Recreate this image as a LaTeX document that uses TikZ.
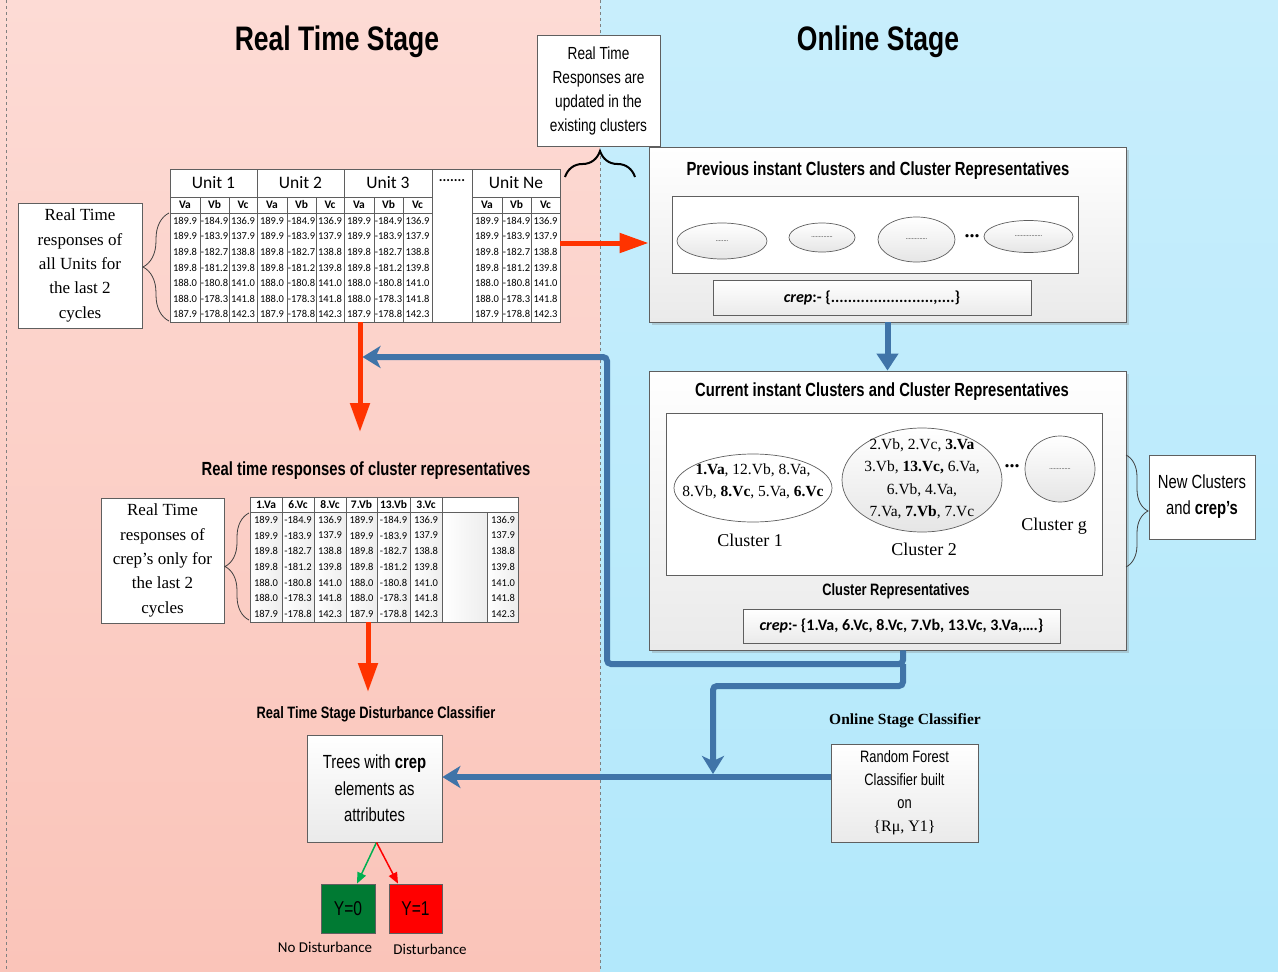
\documentclass[tikz,border=0pt]{standalone}
\usepackage{fontspec}
\setmainfont{Liberation Serif}
\newfontfamily\narrowsans{Liberation Sans}[FakeStretch=0.78]
\newfontfamily\calib{Carlito}
\usetikzlibrary{arrows.meta,shapes.geometric,decorations.pathreplacing,shadows,calc}

\definecolor{pinktop}{RGB}{253,219,213}
\definecolor{pinkbot}{RGB}{250,196,185}
\definecolor{skytop}{RGB}{200,238,252}
\definecolor{skybot}{RGB}{178,232,251}
\definecolor{flowred}{RGB}{255,51,0}
\definecolor{flowblue}{RGB}{64,116,168}
\definecolor{edgegray}{RGB}{95,95,95}
\definecolor{panelbot}{RGB}{234,234,234}
\definecolor{okgreen}{RGB}{0,122,51}
\definecolor{arrgreen}{RGB}{0,176,80}

\newcommand{\setfs}[2]{\fontsize{#1}{#2}\selectfont}
\def\datarows{189.9/-184.9/136.9,189.9/-183.9/137.9,189.8/-182.7/138.8,189.8/-181.2/139.8,188.0/-180.8/141.0,188.0/-178.3/141.8,187.9/-178.8/142.3}

\tikzset{
  panel/.style={draw=edgegray, line width=0.8, top color=white, bottom color=panelbot, inner sep=0,
    drop shadow={shadow xshift=2.5pt, shadow yshift=-2.5pt, opacity=0.3}},
  plainbox/.style={draw=edgegray, line width=0.8, fill=white, inner sep=0, align=center},
  grbox/.style={draw=edgegray, line width=0.8, top color=white, bottom color=panelbot, inner sep=0, align=center},
  tline/.style={draw=edgegray, line width=0.6},
  cell/.style={inner sep=0, font=\calib\setfs{10.5}{12}},
  colhead/.style={inner sep=0, font=\calib\bfseries\setfs{11.5}{13}},
  bigtitle/.style={inner sep=0, font=\narrowsans\bfseries\setfs{34}{40}},
  paneltitle/.style={inner sep=0, font=\narrowsans\bfseries\setfs{19}{22}},
  subtitle/.style={inner sep=0, font=\narrowsans\bfseries\setfs{16.5}{19}},
  curly/.style={draw=black!75, line width=0.8, decorate, decoration={brace, amplitude=#1}},
  blob/.style={ellipse, draw=edgegray, line width=0.7, inner sep=0, top color=white, bottom color=black!10},
  tinydots/.style={inner sep=0, font=\calib\setfs{6}{7}},
  redflow/.style={draw=flowred, line width=5, -{Triangle[length=29pt, width=19pt]}},
  bluepipe/.style={draw=flowblue, line width=6, rounded corners=4},
  bluehead/.style={-{Stealth[length=18pt, width=22pt, inset=5pt]}},
  crepfont/.style={font=\calib\bfseries\setfs{16}{18}},
}

\begin{document}
\begin{tikzpicture}[x=1pt, y=-1pt]
\useasboundingbox (0,0) rectangle (1278,972);

% stage backgrounds
\shade[top color=pinktop, bottom color=pinkbot] (0,0) rectangle (600,972);
\shade[top color=skytop, bottom color=skybot] (600,0) rectangle (1278,972);
\draw[gray, dashed, line width=0.8] (600,0) -- (600,972);
\draw[gray, dashed, line width=0.8] (6,0) -- (6,972);

% stage titles
\node[bigtitle] (rtstage) at (337,42) {Real Time Stage};
\node[bigtitle] (olstage) at (878,42) {Online Stage};

% note on updating
\node[plainbox, minimum width=123, minimum height=111, font=\narrowsans\setfs{17.5}{24}] (callout) at (598.5,90.5)
  {Real Time\\Responses are\\updated in the\\existing clusters};
\draw[curly=26pt, draw=black, line width=2] (565,177) -- (635,177);

% unit response table
\node[minimum width=390, minimum height=153, inner sep=0, fill=white] (unittab) at (365,245.5) {};
\foreach \ux/\uw/\uname [count=\u] in {170/87/Unit 1, 257/87/Unit 2, 344/88/Unit 3, 472/88/Unit Ne} {
  \draw[tline] (\ux,169) rectangle (\ux+\uw,322);
  \draw[tline] (\ux,197) -- (\ux+\uw,197) (\ux,213) -- (\ux+\uw,213);
  \draw[tline] (\ux+30,197) -- (\ux+30,322) (\ux+59,197) -- (\ux+59,322);
  \node[inner sep=0, font=\calib\setfs{17.5}{20}] (uhead\u) at (\ux+\uw/2,183) {\uname};
  \node[colhead] (uva\u) at (\ux+15,205) {Va};
  \node[colhead] (uvb\u) at (\ux+44.5,205) {Vb};
  \node[colhead] (uvc\u) at (\ux+59+\uw/2-29.5,205) {Vc};
  \foreach \a/\b/\c [count=\r] in \datarows {
    \node[cell] (ua\u-\r) at (\ux+15,205.2+\r*15.57) {\a};
    \node[cell] (ub\u-\r) at (\ux+44.5,205.2+\r*15.57) {\b};
    \node[cell] (uc\u-\r) at (\ux+59+\uw/2-29.5,205.2+\r*15.57) {\c};
  }
}
\draw[tline] (432,169) rectangle (472,322);
\node[inner sep=0, font=\calib\bfseries\setfs{14}{16}] (gapdots) at (452,181) {.......};

\node[plainbox, minimum width=124, minimum height=125, font=\setfs{17}{24.3}] (allunits) at (80,265.5)
  {Real Time\\responses of\\all Units for\\the last 2\\cycles};
\draw[curly=26pt] (169,321) -- (169,213);

% previous instant panel
\node[panel, minimum width=477, minimum height=175] (prev) at (887.5,234.5) {};
\node[paneltitle] (prevtitle) at (878,171) {Previous instant Clusters and Cluster Representatives};
\node[plainbox, minimum width=406, minimum height=77] (prevset) at (875,234.5) {};
\node[blob, minimum width=90, minimum height=36] (pc1) at (722,241) {};
\node[blob, minimum width=66, minimum height=29] (pc2) at (822,237.5) {};
\node[blob, minimum width=77, minimum height=45] (pc3) at (916.5,239.5) {};
\node[blob, minimum width=89, minimum height=32] (pc4) at (1028.5,236.5) {};
\node[tinydots] (pc1t) at (pc1) {........};
\node[tinydots] (pc2t) at (pc2) {..............};
\node[tinydots] (pc3t) at (pc3) {..............};
\node[tinydots] (pc4t) at (pc4) {..................};
\node[inner sep=0, font=\bfseries\setfs{20}{20}] (pdots) at (972,236) {...};
\node[grbox, minimum width=318, minimum height=35, crepfont] (prevcrep) at (872,297.5)
  {\textit{crep}:- \{........................,....\}};

% current instant panel
\node[panel, minimum width=477, minimum height=279] (cur) at (887.5,510.5) {};
\node[paneltitle] (curtitle) at (882,392) {Current instant Clusters and Cluster Representatives};
\node[plainbox, minimum width=436, minimum height=162] (curset) at (884,494) {};
\node[ellipse, draw=edgegray, line width=0.7, fill=white, inner sep=0, minimum width=158, minimum height=68] (cl1) at (753,488) {};
\node[inner sep=0, align=center, font=\setfs{15.5}{22.5}] (cl1t) at (753,481.5)
  {\textbf{1.Va}, 12.Vb, 8.Va,\\8.Vb, \textbf{8.Vc}, 5.Va, \textbf{6.Vc}};
\node[blob, minimum width=160, minimum height=104] (cl2) at (922,480) {};
\node[inner sep=0, align=center, font=\setfs{15.5}{22.5}] (cl2t) at (922,479)
  {2.Vb, 2.Vc, \textbf{3.Va}\\3.Vb, \textbf{13.Vc,} 6.Va,\\6.Vb, 4.Va,\\7.Va, \textbf{7.Vb}, 7.Vc};
\node[blob, minimum width=70, minimum height=66] (clg) at (1060,469) {};
\node[tinydots] (clgt) at (clg) {..............};
\node[inner sep=0, font=\bfseries\setfs{20}{20}] (cdots) at (1012,466) {...};
\node[inner sep=0, font=\setfs{18}{20}] (cl1lab) at (750,540) {Cluster 1};
\node[inner sep=0, font=\setfs{18}{20}] (cl2lab) at (924,549) {Cluster 2};
\node[inner sep=0, font=\setfs{18}{20}] (clglab) at (1054,526) {Cluster g};
\node[subtitle] (reptitle) at (896,591) {Cluster Representatives};
\node[grbox, minimum width=317, minimum height=34, crepfont] (curcrep) at (901.5,626)
  {\textit{crep}:- \{1.Va, 6.Vc, 8.Vc, 7.Vb, 13.Vc, 3.Va,….\}};

\draw[curly=22pt] (1126,455) -- (1126,567);
\node[plainbox, minimum width=106, minimum height=84, font=\narrowsans\setfs{19}{26}] (newcl) at (1202,497)
  {New Clusters\\and \textbf{crep’s}};

% representative response table
\node[subtitle, font=\narrowsans\bfseries\setfs{19}{22}] (rrtitle) at (366,471) {Real time responses of cluster representatives};
\node[minimum width=268, minimum height=125, inner sep=0] (reptab) at (384,559.5) {};
\foreach \xa/\xb/\lab [count=\c] in {250/282/1.Va, 282/314/6.Vc, 314/346/8.Vc, 346/377/7.Vb, 377/410/13.Vb, 410/442/3.Vc} {
  \draw[tline, fill=white] (\xa,497) rectangle (\xb,512);
  \draw[tline, left color=white, right color=black!7] (\xa,512) rectangle (\xb,622);
  \node[colhead] (rh\c) at ({(\xa+\xb)/2},504.5) {\lab};
}
\draw[tline, fill=white] (442,497) rectangle (518,512);
\draw[tline, left color=white, right color=black!7] (442,512) rectangle (487,622);
\draw[tline, left color=white, right color=black!7] (487,512) rectangle (518,622);
\foreach \a/\b/\c [count=\r] in \datarows {
  \node[cell] (ra1-\r) at (266,504.15+\r*15.71) {\a};
  \node[cell] (ra2-\r) at (298,504.15+\r*15.71) {\b};
  \node[cell] (ra3-\r) at (330,504.15+\r*15.71) {\c};
  \node[cell] (ra4-\r) at (361.5,504.15+\r*15.71) {\a};
  \node[cell] (ra5-\r) at (393.5,504.15+\r*15.71) {\b};
  \node[cell] (ra6-\r) at (426,504.15+\r*15.71) {\c};
  \node[cell] (ra8-\r) at (503,504.15+\r*15.71) {\c};
}
\node[plainbox, minimum width=123, minimum height=125, font=\setfs{17}{24.3}] (crepresp) at (162.5,560.5)
  {Real Time\\responses of\\crep’s only for\\the last 2\\cycles};
\draw[curly=24pt] (249,620) -- (249,513);

% real time classifier
\node[subtitle] (rtcltitle) at (376,714) {Real Time Stage Disturbance Classifier};
\node[grbox, minimum width=135, minimum height=107, font=\narrowsans\setfs{19}{26.5}] (trees) at (374.5,788.5)
  {Trees with \textbf{crep}\\elements as\\attributes};
\node[draw=edgegray, line width=0.8, fill=okgreen, minimum width=54, minimum height=49, inner sep=0,
  font=\narrowsans\setfs{20}{22}] (y0) at (348,908.5) {Y=0};
\node[draw=edgegray, line width=0.8, fill=red, minimum width=53, minimum height=49, inner sep=0,
  font=\narrowsans\setfs{20}{22}] (y1) at (415.5,908.5) {Y=1};
\node[inner sep=0, font=\calib\setfs{15}{17}] (y0lab) at (325,947) {No Disturbance};
\node[inner sep=0, font=\calib\setfs{15}{17}] (y1lab) at (430,949) {Disturbance};
\draw[arrgreen, line width=1.5, -{Triangle[length=11pt, width=9pt]}] ($(trees.south)+(2,0)$) -- ($(y0.north)+(9,0)$);
\draw[red, line width=1.5, -{Triangle[length=11pt, width=9pt]}] ($(trees.south)+(2,0)$) -- ($(y1.north)+(-17.5,0)$);

% online classifier
\node[inner sep=0, font=\bfseries\setfs{15.5}{18}] (oltitle) at (905,721) {Online Stage Classifier};
\node[grbox, minimum width=147, minimum height=98, font=\narrowsans\setfs{16.5}{23}] (rf) at (904.5,793)
  {Random Forest\\Classifier built\\on\\{\rmfamily\setfs{16}{23}\{Rμ, Y1\}}};

% flow connectors
\coordinate (rd1) at (360,432);
\coordinate (rd2) at (368,692);
\coordinate (merge) at (362.5,357);
\coordinate (j1) at (903,664);
\coordinate (tap) at (713,777);

\draw[redflow] (unittab.east |- 0,243) -- (prev.west |- 0,243);
\draw[redflow] (unittab.south -| rd1) -- (rd1);
\draw[redflow] (reptab.south -| rd2) -- (rd2);

\draw[flowblue, line width=6, -{Triangle[length=17pt, width=21pt]}] (prev.south) -- (cur.north);
\draw[bluepipe, bluehead] (cur.south -| j1) -- (j1) -- (607,664) -- (607,357) -- (merge);
\draw[bluepipe, bluehead, shorten >=3pt] (j1) -- (903,686) -- (713,686) -- (tap);
\draw[bluepipe, bluehead] (rf.west |- tap) -- (trees.east |- tap);
\end{tikzpicture}
\end{document}
